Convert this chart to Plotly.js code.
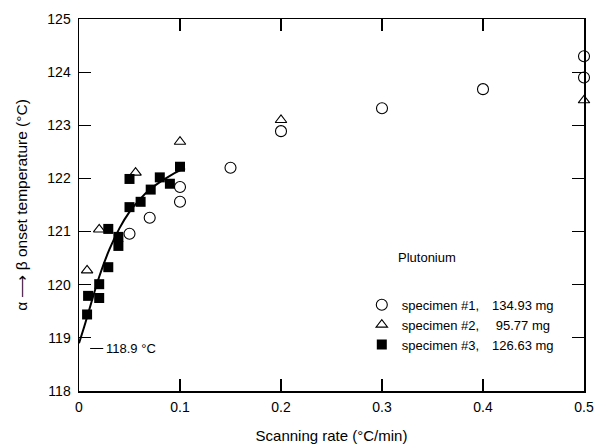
<!DOCTYPE html>
<html><head><meta charset="utf-8">
<script src="https://cdn.plot.ly/plotly-3.0.1.min.js"></script>
<style>html,body{margin:0;padding:0;background:#fff}#c{width:599px;height:444px}</style>
</head><body><div id="c"></div>
<script>
const s1x=[0.05,0.07,0.1,0.1,0.15,0.2,0.3,0.4,0.5,0.5];
const s1y=[120.96,121.26,121.84,121.56,122.2,122.89,123.32,123.68,124.3,123.9];
const s2x=[0.008,0.02,0.056,0.1,0.2,0.5];
const s2y=[120.27,121.04,122.11,122.69,123.1,123.47];
const s3x=[0.008,0.009,0.02,0.02,0.029,0.039,0.039,0.029,0.05,0.05,0.061,0.071,0.08,0.09,0.1];
const s3y=[119.44,119.79,119.75,120.01,120.33,120.73,120.9,121.05,121.46,121.99,121.56,121.79,122.02,121.9,122.22];
const fitX=[0,0.005,0.01,0.02,0.03,0.04,0.05,0.06,0.07,0.08,0.09,0.1,0.105];
const fitY=[118.9,119.2,119.52,120.15,120.66,121.06,121.37,121.6,121.79,121.93,122.05,122.15,122.19];
const xTicks=[0,0.1,0.2,0.3,0.4,0.5];
const xTickText=['0','0.1','0.2','0.3','0.4','0.5'];
const yTicks=[118,119,120,121,122,123,124,125];
const names=['specimen #1,\u2003134.93 mg','specimen #2,\u2003 95.77 mg','specimen #3,\u2003126.63 mg'];
const F='Liberation Sans, Arial, sans-serif';
const traces=[
 {x:fitX,y:fitY,mode:'lines',line:{color:'#000',width:2,shape:'spline'},showlegend:false,hoverinfo:'skip'},
 {x:s1x,y:s1y,mode:'markers',name:names[0],marker:{symbol:'circle-open',size:11,color:'#000',line:{width:1.1}},cliponaxis:false},
 {x:s2x,y:s2y,mode:'markers',name:names[1],marker:{symbol:'triangle-up-open',size:10,color:'#000',line:{width:1.1}},cliponaxis:false},
 {x:s3x,y:s3y,mode:'markers',name:names[2],marker:{symbol:'square',size:10,color:'#000'},cliponaxis:false}
];
const ax={showline:true,linecolor:'#000',linewidth:1.5,mirror:'ticks',ticks:'inside',ticklen:12,tickwidth:1.2,tickcolor:'#000',showgrid:false,zeroline:false,tickfont:{family:F,size:14,color:'#000'}};
const layout={
 width:599,height:444,margin:{l:79,r:15,t:19,b:53},paper_bgcolor:'#fff',plot_bgcolor:'#fff',
 font:{family:F,color:'#000'},
 xaxis:Object.assign({},ax,{range:[0,0.5],tickvals:xTicks,ticktext:xTickText,ticklabelstandoff:3,
   title:{text:'Scanning rate (°C/min)',font:{family:F,size:15,color:'#000'},standoff:16}}),
 yaxis:Object.assign({},ax,{range:[118,125],tickvals:yTicks,ticklabelstandoff:4,
   title:{text:'α ⟶ β onset temperature (°C)',font:{family:F,size:15.5,color:'#000'},standoff:16}}),
 legend:{x:0.56,y:0.272,xanchor:'left',yanchor:'top',bgcolor:'rgba(0,0,0,0)',font:{family:F,size:13,color:'#000'},itemwidth:30,tracegroupgap:0},
 annotations:[
  {xref:'paper',yref:'paper',x:0.628,y:0.36,xanchor:'left',yanchor:'middle',text:'Plutonium',showarrow:false,font:{family:F,size:13,color:'#000'}},
  {xref:'x',yref:'y',x:0.025,y:118.8,xanchor:'left',yanchor:'middle',text:'118.9 °C',showarrow:false,font:{family:F,size:13,color:'#000'}}
 ],
 shapes:[{type:'line',xref:'x',yref:'y',x0:0.011,x1:0.024,y0:118.8,y1:118.8,line:{color:'#000',width:1}}]
};
Plotly.newPlot('c',traces,layout,{displayModeBar:false,staticPlot:true});
</script></body></html>
